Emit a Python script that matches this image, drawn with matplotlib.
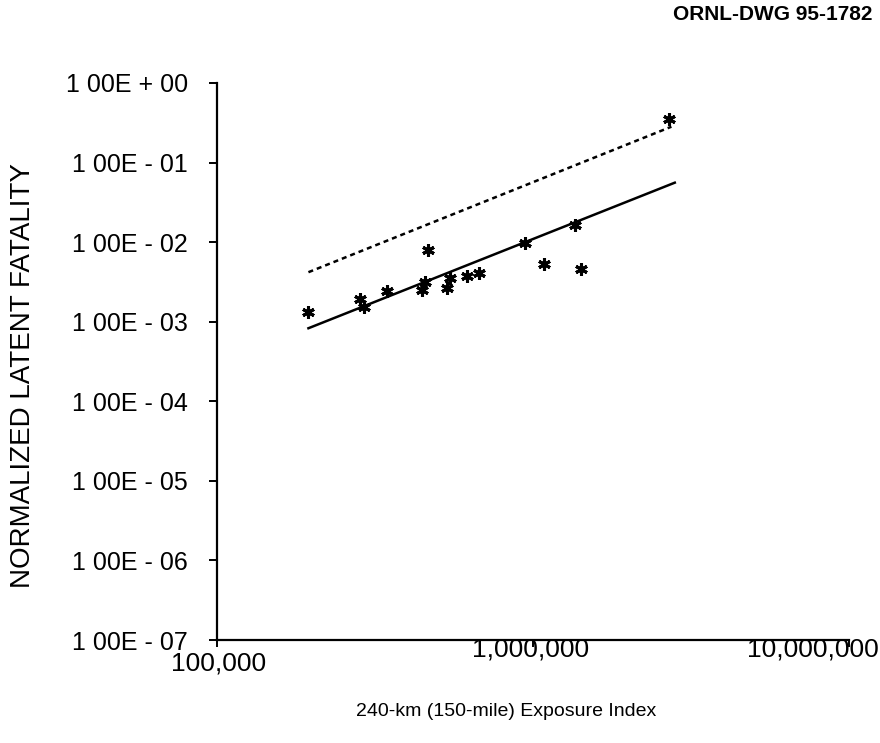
import matplotlib
matplotlib.use("Agg")
import matplotlib.pyplot as plt
from matplotlib.ticker import FixedLocator, NullLocator, FixedFormatter
from matplotlib.transforms import ScaledTranslation, blended_transform_factory

plt.rcParams["font.family"] = ["Liberation Sans", "DejaVu Sans"]

# Observed sites: 240-km exposure index vs. normalized latent fatality
exposure = [1.947e5, 2.843e5, 2.927e5, 3.446e5, 4.453e5, 4.562e5, 4.653e5,
            5.359e5, 5.454e5, 6.204e5, 6.745e5, 9.445e5, 1.080e6, 1.362e6,
            1.419e6, 2.697e6]
fatality = [1.32e-3, 1.92e-3, 1.52e-3, 2.46e-3, 2.51e-3, 3.19e-3, 7.91e-3,
            2.64e-3, 3.58e-3, 3.79e-3, 4.14e-3, 9.86e-3, 5.32e-3, 1.644e-2,
            4.61e-3, 0.350]

# Power-law fit (solid) and upper bound (dashed), end points
fit_x = [1.947e5, 2.81e6]
fit_y = [8.28e-4, 5.59e-2]
bound_x = [1.947e5, 2.742e6]
bound_y = [4.19e-3, 0.2825]

ytick_vals = [1e0, 1e-1, 1e-2, 1e-3, 1e-4, 1e-5, 1e-6, 1e-7]
ytick_labels = ["1 00E + 00", "1 00E - 01", "1 00E - 02", "1 00E - 03",
                "1 00E - 04", "1 00E - 05", "1 00E - 06", "1 00E - 07"]
xtick_vals = [1e5, 1e6, 1e7]
xtick_labels = ["100,000", "1,000,000", "10,000,000"]

fig = plt.figure(figsize=(8.8, 7.43), dpi=100)
ax = fig.add_axes([217 / 880, 1 - 640 / 743, (849 - 217) / 880, (640 - 83) / 743])

ax.set_xscale("log")
ax.set_yscale("log")
ax.set_xlim(xtick_vals[0], xtick_vals[-1])
ax.set_ylim(ytick_vals[-1], ytick_vals[0])

ax.plot(bound_x, bound_y, color="black", lw=1.8, linestyle=(0, (2.0, 1.6)))
ax.plot(fit_x, fit_y, color="black", lw=1.8)
ax.plot(exposure, fatality, linestyle="none", marker=(6, 2, 0), ms=9,
        mew=2.2, color="black")

for s in ("top", "right"):
    ax.spines[s].set_visible(False)
for s in ("left", "bottom"):
    ax.spines[s].set_linewidth(1.6)

ax.yaxis.set_major_locator(FixedLocator(ytick_vals))
ax.yaxis.set_major_formatter(FixedFormatter(ytick_labels))
ax.yaxis.set_minor_locator(NullLocator())
ax.tick_params(axis="y", which="major", direction="out", length=6, width=1.4,
               pad=15, labelsize=18)

ax.xaxis.set_major_locator(FixedLocator(xtick_vals))
ax.xaxis.set_minor_locator(NullLocator())
ax.tick_params(axis="x", which="major", direction="out", length=5, width=1.4,
               labelbottom=False)

# x tick labels, staggered as drawn on the original sheet
trans = blended_transform_factory(ax.transData, ax.transAxes)
x_offsets = [(2, -23), (-2, -9), (-36, -9)]
for val, lab, (dx, dy) in zip(xtick_vals, xtick_labels, x_offsets):
    ax.text(val, 0, lab,
            transform=trans + ScaledTranslation(dx / 100, dy / 100, fig.dpi_scale_trans),
            ha="center", va="center", fontsize=19)

fig.text(506 / 880, 1 - 712 / 743, "240-km (150-mile) Exposure Index",
         ha="center", va="center", fontsize=14)
fig.text(23 / 880, 1 - 376 / 743, "NORMALIZED LATENT FATALITY", rotation=90,
         ha="center", va="center", fontsize=20)
fig.text(872 / 880, 1 - 15 / 743, "ORNL-DWG 95-1782", ha="right", va="center",
         fontsize=15, fontweight="bold")

fig.savefig("out.png", dpi=100)
